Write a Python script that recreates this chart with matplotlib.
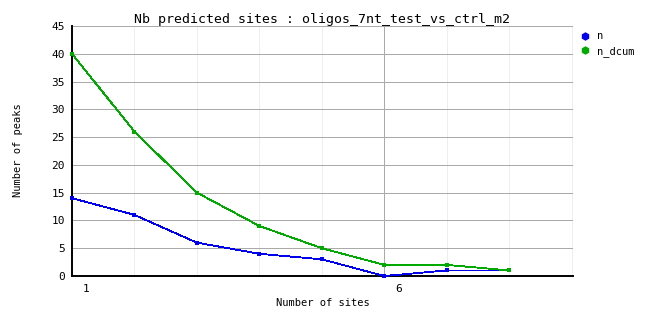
#!/usr/bin/env python3

import matplotlib
matplotlib.use("Agg")
import matplotlib.pyplot as plt
import matplotlib.transforms as mtransforms
from matplotlib.lines import Line2D

sites = [1, 2, 3, 4, 5, 6, 7, 8]
n = [14, 11, 6, 4, 3, 0, 1, 1]
n_dcum = [40, 26, 15, 9, 5, 2, 2, 1]
yticks = [0, 5, 10, 15, 20, 25, 30, 35, 40, 45]
title = "Nb predicted sites : oligos_7nt_test_vs_ctrl_m2"

plt.rcParams['font.family'] = ['DejaVu Sans Mono']

W, H = 662, 328
PX = 0.72  # one pixel in points
fig = plt.figure(figsize=(W / 100, H / 100), dpi=100)
ax = fig.add_axes([72 / W, 1 - 276 / H, (573 - 72) / W, (276 - 26) / H])

ax.set_xlim(1, 9.02)
ax.set_ylim(0, 45)

# grid
for x in range(2, 10):
    c = '#aaaaaa' if x == 6 else '#eeeeee'
    ax.axvline(x, color=c, linewidth=PX, zorder=0, antialiased=False)
for y in yticks[1:]:
    ax.axhline(y, color='#aaaaaa', linewidth=PX, zorder=0, antialiased=False)

ax.plot(sites, n, color='#0000ee', linewidth=0.6, marker='s', markersize=3,
        markeredgewidth=0, antialiased=False, clip_on=False, zorder=3)
ax.plot(sites, n_dcum, color='#00aa00', linewidth=0.6, marker='s', markersize=3,
        markeredgewidth=0, antialiased=False, clip_on=False, zorder=3)

for s in ['top', 'right']:
    ax.spines[s].set_visible(False)
for s in ['left', 'bottom']:
    ax.spines[s].set_linewidth(1.4)

ax.set_yticks(yticks)
ax.set_yticklabels([str(v) for v in yticks], fontsize=8)
ax.set_xticks([1, 6])
ax.set_xticklabels(['1', '6'], fontsize=8)
ax.tick_params(axis='x', length=0, pad=6)
ax.tick_params(axis='y', length=0, pad=5)
# x tick labels sit a bit right of their grid line
offset = mtransforms.ScaledTranslation(14 / 100, 0, fig.dpi_scale_trans)
for lab in ax.get_xticklabels():
    lab.set_transform(lab.get_transform() + offset)

ax.set_title(title, fontsize=9.5, pad=2)
ax.set_xlabel("Number of sites", fontsize=7.5, labelpad=3)
fig.text(18 / W, 1 - 150 / H, "Number of peaks", fontsize=7.5, rotation=90,
         ha='center', va='center')

handles = [Line2D([], [], linestyle='none', marker='h', markersize=5,
                  color='#0000ee', label='n'),
           Line2D([], [], linestyle='none', marker='h', markersize=5,
                  color='#00aa00', label='n_dcum')]
fig.legend(handles=handles, loc='upper left', bbox_to_anchor=(578 / W, 1 - 27 / H),
           frameon=False, fontsize=7.5, handlelength=0.6, handletextpad=0.8,
           borderaxespad=0, labelspacing=0.45)

fig.savefig("out.png", dpi=100)
